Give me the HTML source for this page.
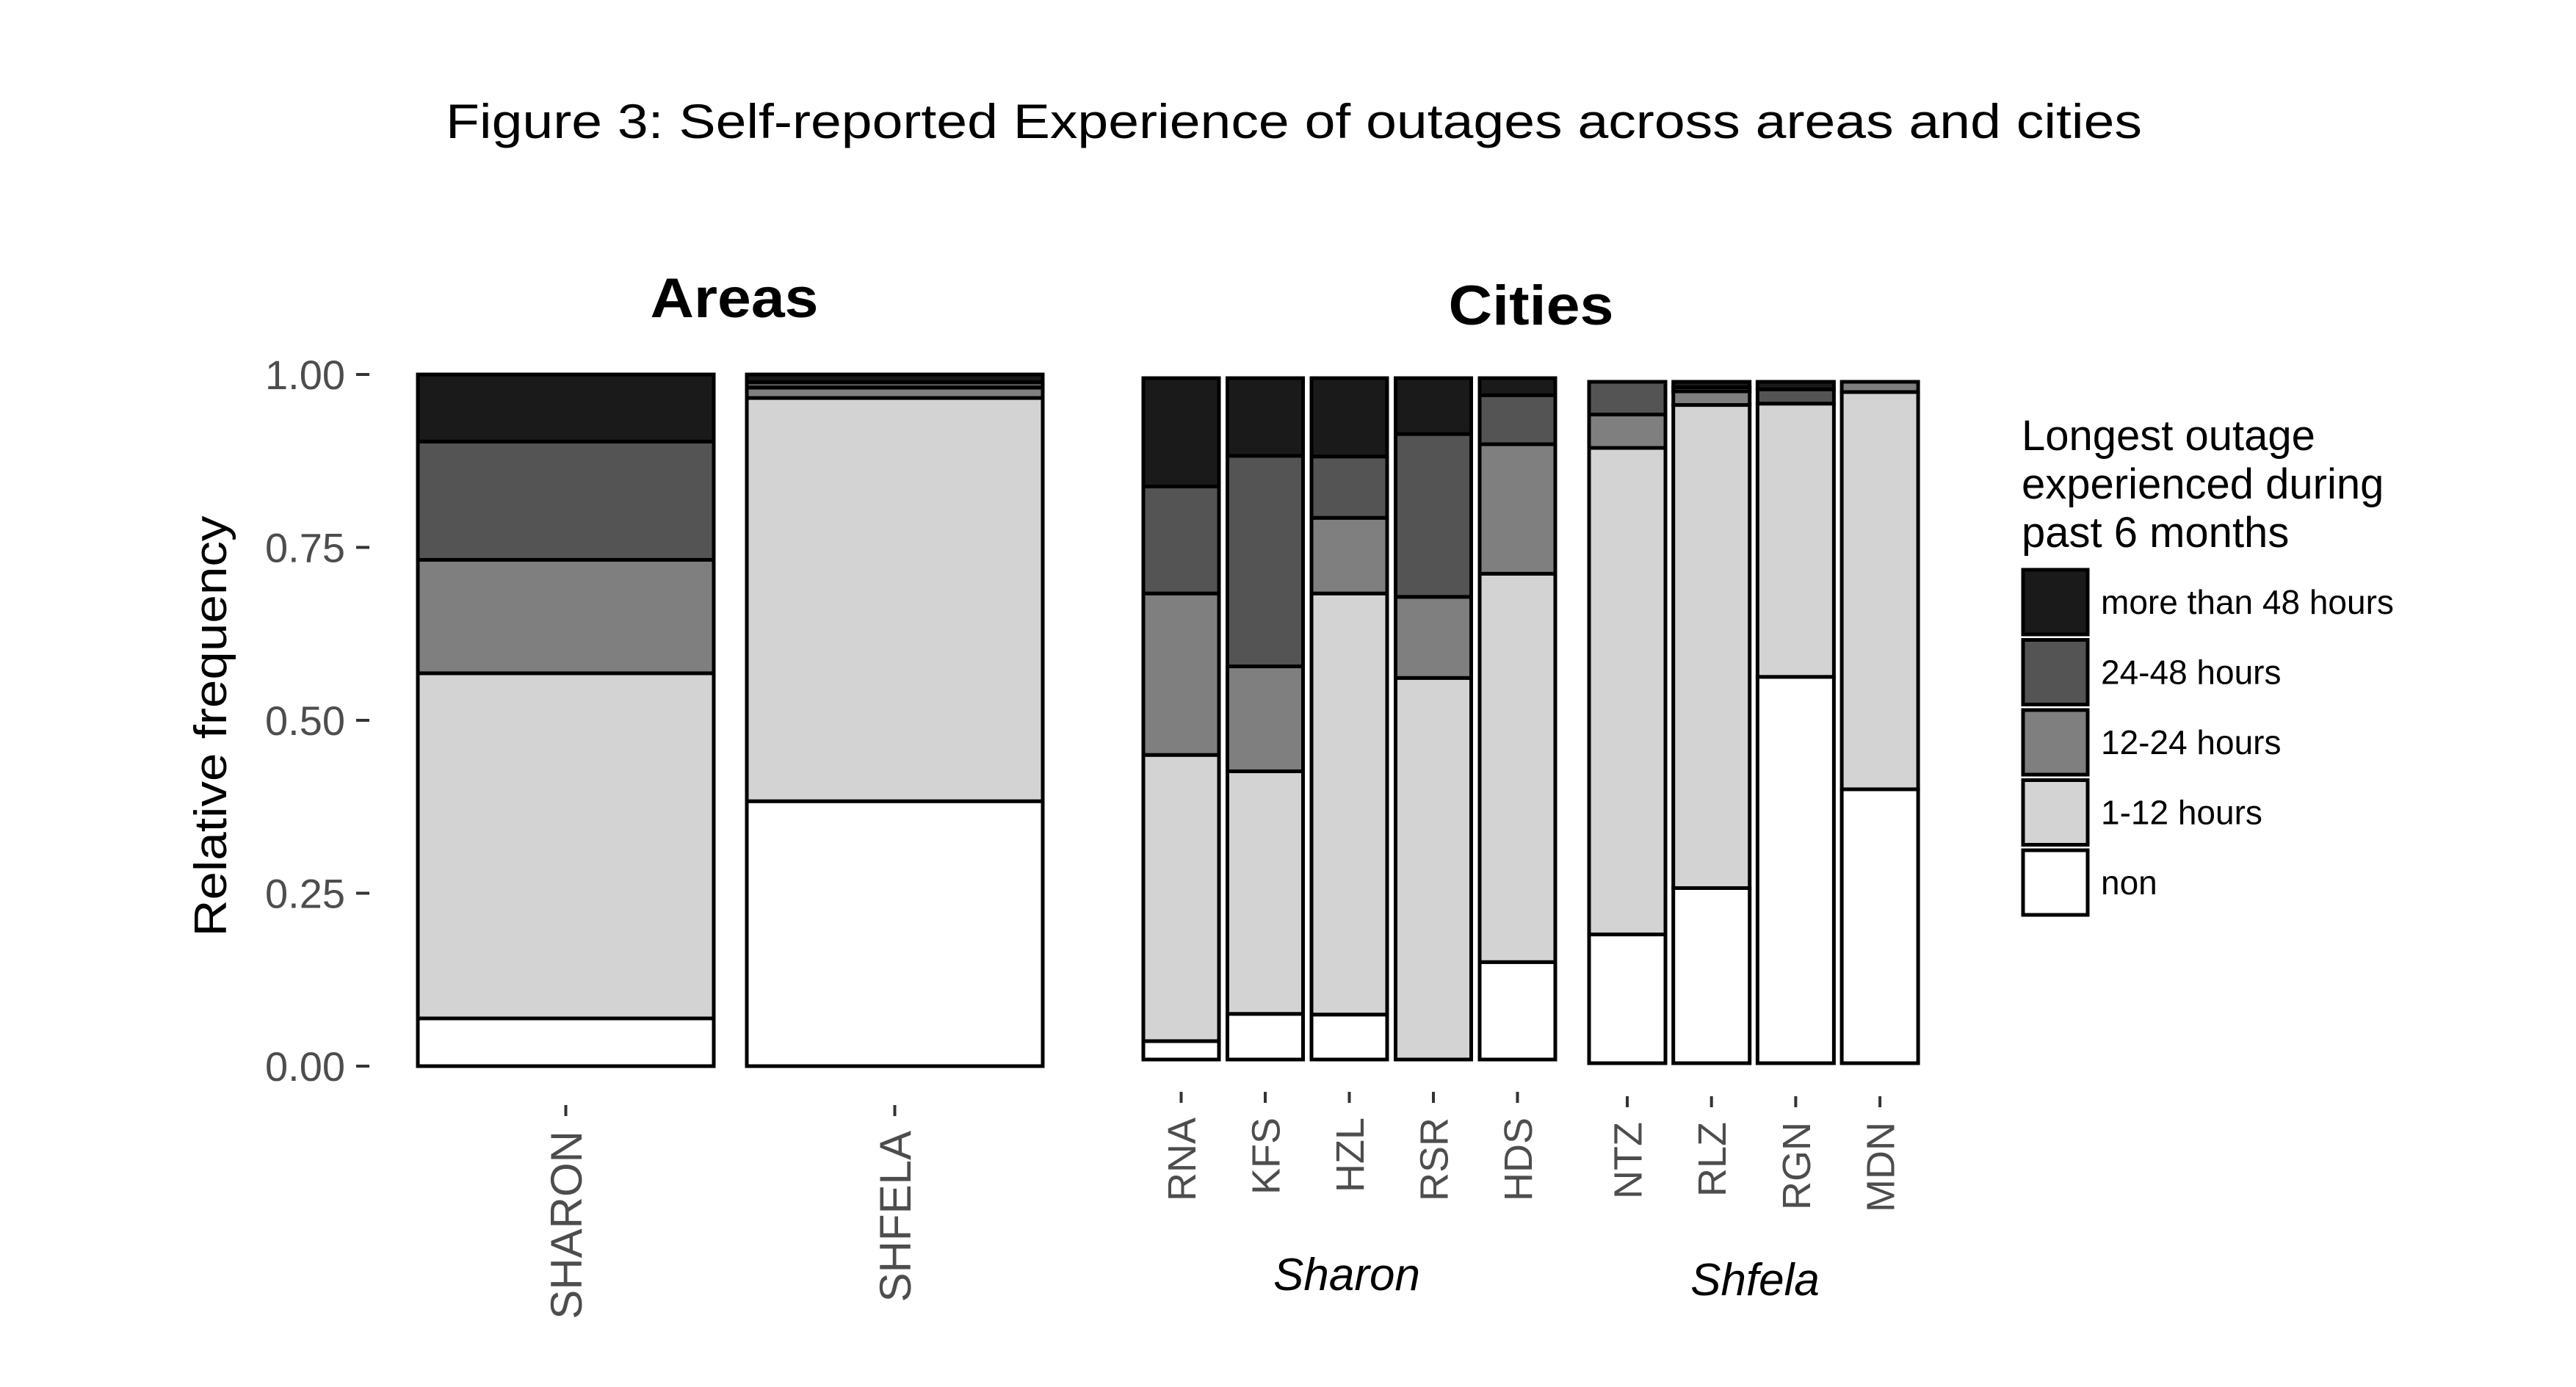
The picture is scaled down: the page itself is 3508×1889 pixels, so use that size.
<!DOCTYPE html>
<html><head><meta charset="utf-8"><style>
html,body{margin:0;padding:0;background:#fff;}
svg{display:block;font-family:"Liberation Sans",Arial,sans-serif;}
</style></head><body>
<svg id="chart" width="3508" height="1889" viewBox="0 0 3508 1889" xmlns="http://www.w3.org/2000/svg">
<rect width="3508" height="1889" fill="#fff"/>
<text x="1762" y="188" font-size="66" text-anchor="middle" fill="#000" textLength="2310" lengthAdjust="spacingAndGlyphs">Figure 3: Self-reported Experience of outages across areas and cities</text>
<text x="1000" y="432" font-size="76" font-weight="bold" text-anchor="middle" textLength="229" lengthAdjust="spacingAndGlyphs">Areas</text>
<text x="2085" y="442" font-size="76" font-weight="bold" text-anchor="middle" textLength="225" lengthAdjust="spacingAndGlyphs">Cities</text>
<text transform="translate(308,989) rotate(-90)" font-size="62" text-anchor="middle" textLength="573" lengthAdjust="spacingAndGlyphs">Relative frequency</text>
<text x="1834" y="1757" font-size="62" font-style="italic" text-anchor="middle">Sharon</text>
<text x="2390" y="1764" font-size="62" font-style="italic" text-anchor="middle">Shfela</text>
<g id="plots"></g>
<g id="legend"></g>
</svg>
<script>
const levels = ["non","1-12 hours","12-24 hours","24-48 hours","more than 48 hours"];
const fills = ["#ffffff","#d3d3d3","#7f7f7f","#545454","#1a1a1a"];
const yTicks = [0,0.25,0.5,0.75,1];
const yTickLabels = ["0.00","0.25","0.50","0.75","1.00"];
const areaCats = ["SHARON","SHFELA"];
const areaVals = [[0.069,0.499,0.164,0.171,0.097],[0.383,0.583,0.015,0.008,0.011]];
const sharonCats = ["RNA","KFS","HZL","RSR","HDS"];
const sharonVals = [[0.027,0.420,0.237,0.157,0.159],[0.067,0.356,0.154,0.309,0.114],[0.066,0.618,0.111,0.090,0.115],[0.0,0.560,0.119,0.239,0.082],[0.143,0.570,0.190,0.072,0.025]];
const shfelaCats = ["NTZ","RLZ","RGN","MDN"];
const shfelaVals = [[0.189,0.714,0.049,0.048,0.0],[0.257,0.709,0.020,0.006,0.008],[0.567,0.401,0.0,0.021,0.011],[0.402,0.583,0.015,0.0,0.0]];

const NS="http://www.w3.org/2000/svg";
const plots=document.getElementById('plots');
function mk(tag,attrs,parent){const e=document.createElementNS(NS,tag);for(const k in attrs)e.setAttribute(k,attrs[k]);(parent||plots).appendChild(e);return e;}

function panel(name,cats,vals,x0,step,bw,yB,yT,fs,tickY){
  const y=v=>yB-(yB-yT)*v;
  const g=mk('g',{});
  
  
  cats.forEach((c,i)=>{
    const bx=x0+i*step;
    let cum=0;
    vals[i].forEach((v,j)=>{
      if(v<=0)return;
      const r=mk('rect',{x:bx,y:y(cum+v),width:bw,height:y(cum)-y(cum+v),fill:fills[j],stroke:'#000','stroke-width':5},g);
      
      
      cum+=v;
    });
    const cx=bx+bw/2;
    const t=mk('line',{x1:cx,x2:cx,y1:tickY,y2:tickY+15,stroke:'#333','stroke-width':4},g);
    
    
    const lb=mk('text',{transform:`translate(${cx+fs*0.36},${tickY+35}) rotate(-90)`,'font-size':fs,fill:'#4d4d4d','text-anchor':'end'},g);
    
    
    lb.textContent=c;
  });
  return y;
}
const ya=panel('areas',areaCats,areaVals,569,448,403,1452,510,60,1505);
panel('sharon-cities',sharonCats,sharonVals,1557,114.5,103,1443,515,54,1487);
panel('shfela-cities',shfelaCats,shfelaVals,2164,114.7,104,1448,520,54,1493);

yTicks.forEach((v,i)=>{
  const l=mk('line',{x1:485,x2:503,y1:ya(v),y2:ya(v),stroke:'#333','stroke-width':4});
  
  
  const t=mk('text',{x:470,y:ya(v)+20,'font-size':56,fill:'#4d4d4d','text-anchor':'end'});
  
  
  t.textContent=yTickLabels[i];
});

const leg=document.getElementById('legend');
["Longest outage","experienced during","past 6 months"].forEach((s,i)=>{
  const t=mk('text',{x:2753,y:613+i*66,'font-size':58},leg);
  
  
  t.textContent=s;
});
for(let k=0;k<5;k++){
  const j=4-k; const ky=776+k*95.5;
  const r=mk('rect',{x:2755,y:ky,width:88,height:88,fill:fills[j],stroke:'#000','stroke-width':5},leg);
  
  
  const t=mk('text',{x:2861,y:ky+60,'font-size':46},leg);
  
  
  t.textContent=levels[j];
}
</script>
</body></html>
